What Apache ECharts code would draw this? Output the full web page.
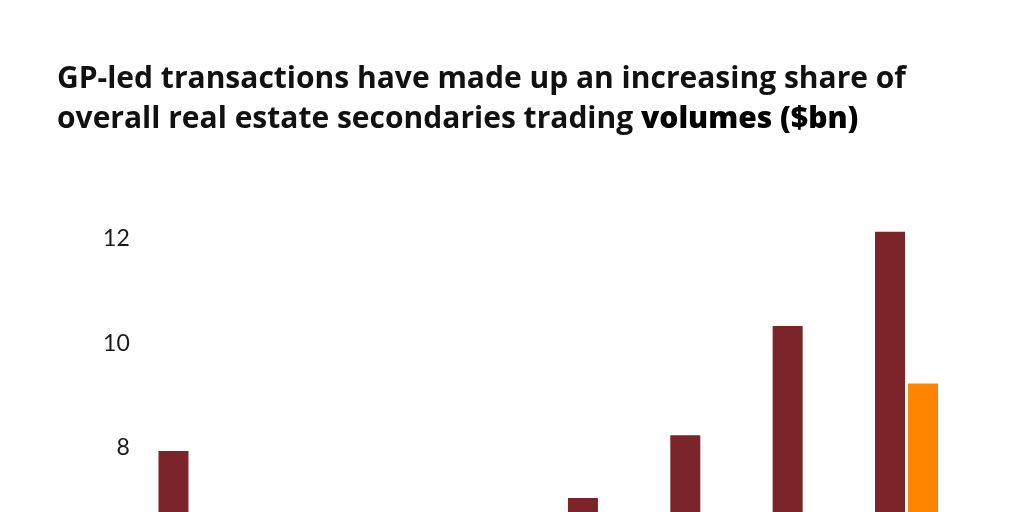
<!DOCTYPE html>
<html><head><meta charset="utf-8">
<script src="https://cdn.jsdelivr.net/npm/echarts@6/dist/echarts.min.js"></script>
<style>html,body{margin:0;padding:0;background:#fff}#c{width:1024px;height:512px}</style>
</head><body><div id="c"></div>
<script>
const categories = ['2015','2016','2017','2018','2019','2020','2021','2022'];
const totalVolumes = [7.94, 5.2, 4.1, 6.0, 7.04, 8.24, 10.33, 12.13];
const gpLedVolumes = [0.6, 0.9, 1.1, 1.9, 2.6, 3.5, 5.2, 9.23];
const yTicks = [0, 2, 4, 6, 8, 10, 12];

const chart = echarts.init(document.getElementById('c'));
chart.setOption({
  animation: false,
  title: {
    left: 52, top: 55,
    text: '{a|GP-led transactions have made up an increasing share of}\n{a|overall real estate secondaries trading }{b|volumes ($bn)}',
    textStyle: {
      rich: {
        a: {fontFamily: 'Open Sans', fontSize: 30, fontWeight: 700, color: '#111', lineHeight: 39.5},
        b: {fontFamily: 'Open Sans', fontSize: 30, fontWeight: 800, color: '#000', lineHeight: 39.5}
      }
    }
  },
  grid: {left: 138.8, width: 818.9, top: 134, height: 732.2, containLabel: false, outerBoundsMode: 'none'},
  xAxis: {
    type: 'category', data: categories,
    axisLine: {show: false}, axisTick: {show: false}, axisLabel: {show: false}
  },
  yAxis: {
    type: 'value', min: 0, max: 14, interval: 2,
    splitLine: {show: false}, axisLine: {show: false}, axisTick: {show: false},
    axisLabel: {
      margin: 9, fontFamily: 'Lato', fontSize: 23, color: '#1a1a1a',
      formatter: v => yTicks.includes(v) ? String(v) : ''
    }
  },
  series: [
    {type: 'bar', name: 'Total', data: totalVolumes, barWidth: 30, barGap: '10%', itemStyle: {color: '#7B242A'}},
    {type: 'bar', name: 'GP-led', data: gpLedVolumes, barWidth: 30, itemStyle: {color: '#FF8500'}}
  ]
});
</script></body></html>
